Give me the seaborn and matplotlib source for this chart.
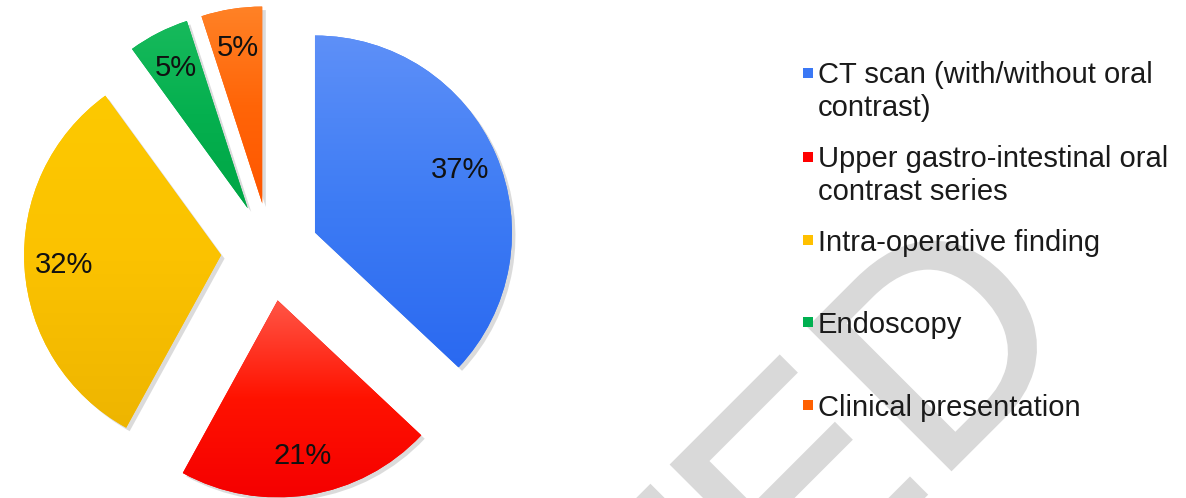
import numpy as np
import matplotlib
matplotlib.use("Agg")
import matplotlib.pyplot as plt
import matplotlib.patheffects as pe
from matplotlib.colors import LinearSegmentedColormap
from matplotlib.patches import Rectangle
import seaborn as sns

# Diagnostic modality shares (%), clockwise from 12 o'clock
categories = [
    "CT scan (with/without oral\ncontrast)",
    "Upper gastro-intestinal oral\ncontrast series",
    "Intra-operative finding",
    "Endoscopy",
    "Clinical presentation",
]
shares = [37, 21, 32, 5, 5]
pct_labels = ["37%", "21%", "32%", "5%", "5%"]

base_colors = ["#3b78f5", "#ff0000", "#ffc000", "#00b050", "#ff6000"]
# (bottom, middle, top) shading of each slice
shades = [
    ["#2a69f1", "#3e7cf4", "#5e90f8"],
    ["#f50000", "#ff1200", "#ff5646"],
    ["#eeb500", "#fbc200", "#fdc900"],
    ["#00a645", "#05b04f", "#17ba5c"],
    ["#ff5600", "#ff6508", "#ff8226"],
]

sns.set_theme(style="white")
plt.rcParams["font.family"] = ["Liberation Sans", "DejaVu Sans"]

W, H = 1186, 498
fig = plt.figure(figsize=(W / 100, H / 100), dpi=100)
fig.patch.set_facecolor("white")
ax = fig.add_axes([0, 0, 1, 1])

# Watermark
ax.text(934, H - 188, "ACCEPTED", fontsize=210, color="#d9d9d9",
        rotation=45, rotation_mode="anchor", ha="right", va="top",
        zorder=0,
        path_effects=[pe.Stroke(linewidth=2.5, foreground="#d9d9d9",
                                joinstyle="miter"), pe.Normal()])

radius = 197
wedges, texts, autotexts = ax.pie(
    shares,
    labels=None,
    colors=sns.color_palette(base_colors),
    startangle=90,
    counterclock=False,
    explode=[49] * len(shares),
    radius=radius,
    center=(270, H - 252),
    autopct=lambda p: "",
    pctdistance=0.8,
    wedgeprops=dict(linewidth=0),
)

for w, sh, lab, t in zip(wedges, shades, pct_labels, autotexts):
    w.set_path_effects([
        pe.SimplePatchShadow(offset=(2.5, -2.5), shadow_rgbFace="#9a9a9a", alpha=0.35),
        pe.Normal(),
    ])
    w.set_zorder(2)
    ext = w.get_path().get_extents()
    cmap = LinearSegmentedColormap.from_list("shade", sh)
    grad = np.linspace(0, 1, 256)[:, None]
    im = ax.imshow(grad, cmap=cmap, origin="lower", aspect="auto",
                   extent=(ext.x0, ext.x1, ext.y0, ext.y1), zorder=3,
                   interpolation="bilinear")
    im.set_clip_path(w)
    t.set_text(lab)
    t.set_fontsize(21)
    t.set_color("#111111")
    t.set_ha("center")
    t.set_va("center")
    t.set_zorder(5)

ax.set_xlim(0, W)
ax.set_ylim(0, H)
ax.set_aspect("auto")
ax.axis("off")

# Legend column: marker square beside the first line of each entry
first_line_y = [73, 157, 240, 322, 405]
line_step = 32
for cat, col, yc in zip(categories, base_colors, first_line_y):
    n_extra = cat.count("\n")
    ax.add_patch(Rectangle((803, H - yc - 5), 10, 10, facecolor=col,
                           edgecolor="none", zorder=4))
    ax.text(818, H - yc - 10.5 - n_extra * line_step, cat, fontsize=21,
            color="#1a1a1a", ha="left", va="baseline", zorder=5,
            linespacing=1.2)

fig.savefig("out.png", dpi=100, facecolor="white")
